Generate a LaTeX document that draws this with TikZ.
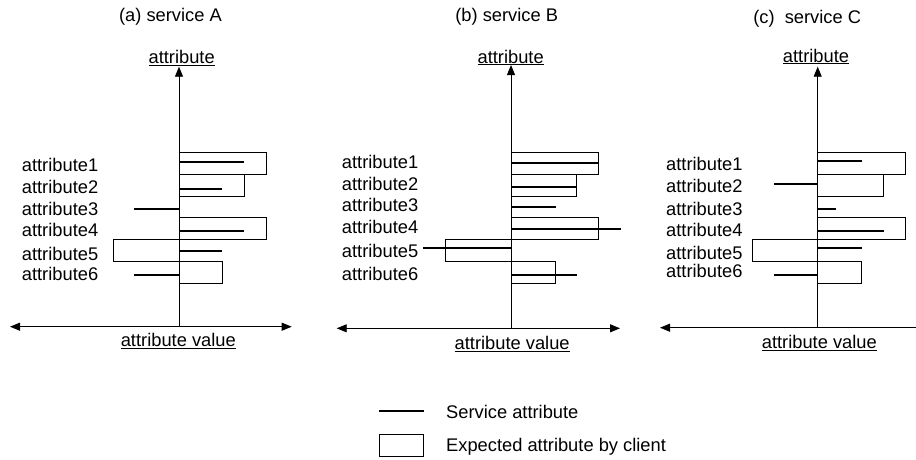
\documentclass[tikz,border=0pt]{standalone}
\usepackage{fontspec}
\setmainfont{Liberation Sans}
\usetikzlibrary{arrows.meta}
\begin{document}
\begin{tikzpicture}[x=1pt,y=-1pt,
  font=\fontsize{18.3}{22}\selectfont,
  svc/.style={line width=1.9pt},
  expbox/.style={draw, line width=0.9pt},
  axisline/.style={line width=0.9pt},
  uptip/.style={axisline,-{Triangle[length=10pt,width=8pt]}},
  dbltip/.style={axisline,{Triangle[length=10pt,width=8pt]}-{Triangle[length=10pt,width=8pt]}},
  lfttip/.style={axisline,{Triangle[length=10pt,width=8pt]}-},
  lbl/.style={anchor=base west, inner sep=0pt},
  ctr/.style={anchor=base, inner sep=0pt}]
\useasboundingbox (0,0) rectangle (916,459);

% ---------------- Panel A ----------------
\node[ctr] (titleA) at (170.5,21.5) {(a) service A};
\node[ctr] (yA) at (181.7,63.3) {\underline{attribute}};
\node[ctr] (xA) at (178.3,346.5) {\underline{attribute value}};
\draw[expbox] (179,152.3) rectangle (266,174);
\draw[expbox] (179,174) rectangle (244.3,196);
\draw[expbox] (179,217.7) rectangle (266,239.3);
\draw[expbox] (113.6,239.3) rectangle (179,261);
\draw[expbox] (179,261) rectangle (222.4,283.3);
\coordinate (A0) at (179,326.7);
\coordinate (Atop) at (179,66.7);
\coordinate (Aleft) at (10,326.7);
\coordinate (Aright) at (291.7,326.7);
\draw[uptip] (A0) -- (Atop);
\draw[dbltip] (Aleft) -- (Aright);
\draw[svc] (179,161.7) -- (244.3,161.7);
\draw[svc] (179,189) -- (222.4,189);
\draw[svc] (134.3,209.3) -- (179,209.3);
\draw[svc] (179,230.7) -- (244.3,230.7);
\draw[svc] (179,250.7) -- (222.4,250.7);
\draw[svc] (134.3,275) -- (179,275);
\node[lbl] (a1) at (21.7,171.7) {attribute1};
\node[lbl] (a2) at (21.7,193.3) {attribute2};
\node[lbl] (a3) at (21.7,215) {attribute3};
\node[lbl] (a4) at (21.7,236.7) {attribute4};
\node[lbl] (a5) at (21.7,260) {attribute5};
\node[lbl] (a6) at (21.7,280.5) {attribute6};

% ---------------- Panel B ----------------
\node[ctr] (titleB) at (506.7,21.7) {(b) service B};
\node[ctr] (yB) at (510.7,63) {\underline{attribute}};
\node[ctr] (xB) at (512.2,349.3) {\underline{attribute value}};
\draw[expbox] (511,152.3) rectangle (598.7,174);
\draw[expbox] (511,174) rectangle (576.7,196);
\draw[expbox] (511,217.7) rectangle (598.7,239.3);
\draw[expbox] (445.7,239.3) rectangle (511,261.5);
\draw[expbox] (511,261.5) rectangle (555,283.3);
\coordinate (B0) at (511,328.3);
\coordinate (Btop) at (511,65);
\coordinate (Bleft) at (336.7,328.3);
\coordinate (Bright) at (620,328.3);
\draw[uptip] (B0) -- (Btop);
\draw[dbltip] (Bleft) -- (Bright);
\draw[svc] (511,163.3) -- (598.7,163.3);
\draw[svc] (511,187.3) -- (576.7,187.3);
\draw[svc] (511,206.7) -- (555.5,206.7);
\draw[svc] (511,228.7) -- (621,228.7);
\draw[svc] (423.3,248.3) -- (511,248.3);
\draw[svc] (511,275) -- (576.7,275);
\node[lbl] (b1) at (341.7,168.3) {attribute1};
\node[lbl] (b2) at (341.7,190) {attribute2};
\node[lbl] (b3) at (341.7,211.7) {attribute3};
\node[lbl] (b4) at (341.7,233.3) {attribute4};
\node[lbl] (b5) at (341.7,257.3) {attribute5};
\node[lbl] (b6) at (341.7,280) {attribute6};

% ---------------- Panel C ----------------
\node[ctr] (titleC) at (807.2,23.5) {(c)\ \ service C};
\node[ctr] (yC) at (816,62) {\underline{attribute}};
\node[ctr] (xC) at (819.3,348.3) {\underline{attribute value}};
\draw[expbox] (817.7,152.3) rectangle (905.3,174);
\draw[expbox] (817.7,174) rectangle (883.3,196);
\draw[expbox] (817.7,217.7) rectangle (905.3,239.3);
\draw[expbox] (752.3,239.3) rectangle (817.7,261.5);
\draw[expbox] (817.7,261.5) rectangle (861.7,283.3);
\coordinate (C0) at (817.7,327.7);
\coordinate (Ctop) at (817.7,66.7);
\coordinate (Cleft) at (660,327.7);
\coordinate (Cright) at (916,327.7);
\draw[uptip] (C0) -- (Ctop);
\draw[lfttip] (Cleft) -- (Cright);
\draw[svc] (817.7,161) -- (861.7,161);
\draw[svc] (774,184.3) -- (817.7,184.3);
\draw[svc] (817.7,209.3) -- (835.7,209.3);
\draw[svc] (817.7,230.7) -- (884,230.7);
\draw[svc] (817.7,248.3) -- (861.7,248.3);
\draw[svc] (774,275) -- (817.7,275);
\node[lbl] (c1) at (666,170.7) {attribute1};
\node[lbl] (c2) at (666,192.7) {attribute2};
\node[lbl] (c3) at (666,215) {attribute3};
\node[lbl] (c4) at (666,236) {attribute4};
\node[lbl] (c5) at (666,259) {attribute5};
\node[lbl] (c6) at (666,277.7) {attribute6};

% ---------------- Legend ----------------
\coordinate (L1a) at (379.3,411);
\coordinate (L1b) at (424,411);
\draw[svc] (L1a) -- (L1b);
\draw[expbox] (379.3,434.3) rectangle (423.3,456);
\node[lbl] (legS) at (446,418.3) {Service attribute};
\node[lbl] (legE) at (446,451.5) {Expected attribute by client};
\end{tikzpicture}
\end{document}
